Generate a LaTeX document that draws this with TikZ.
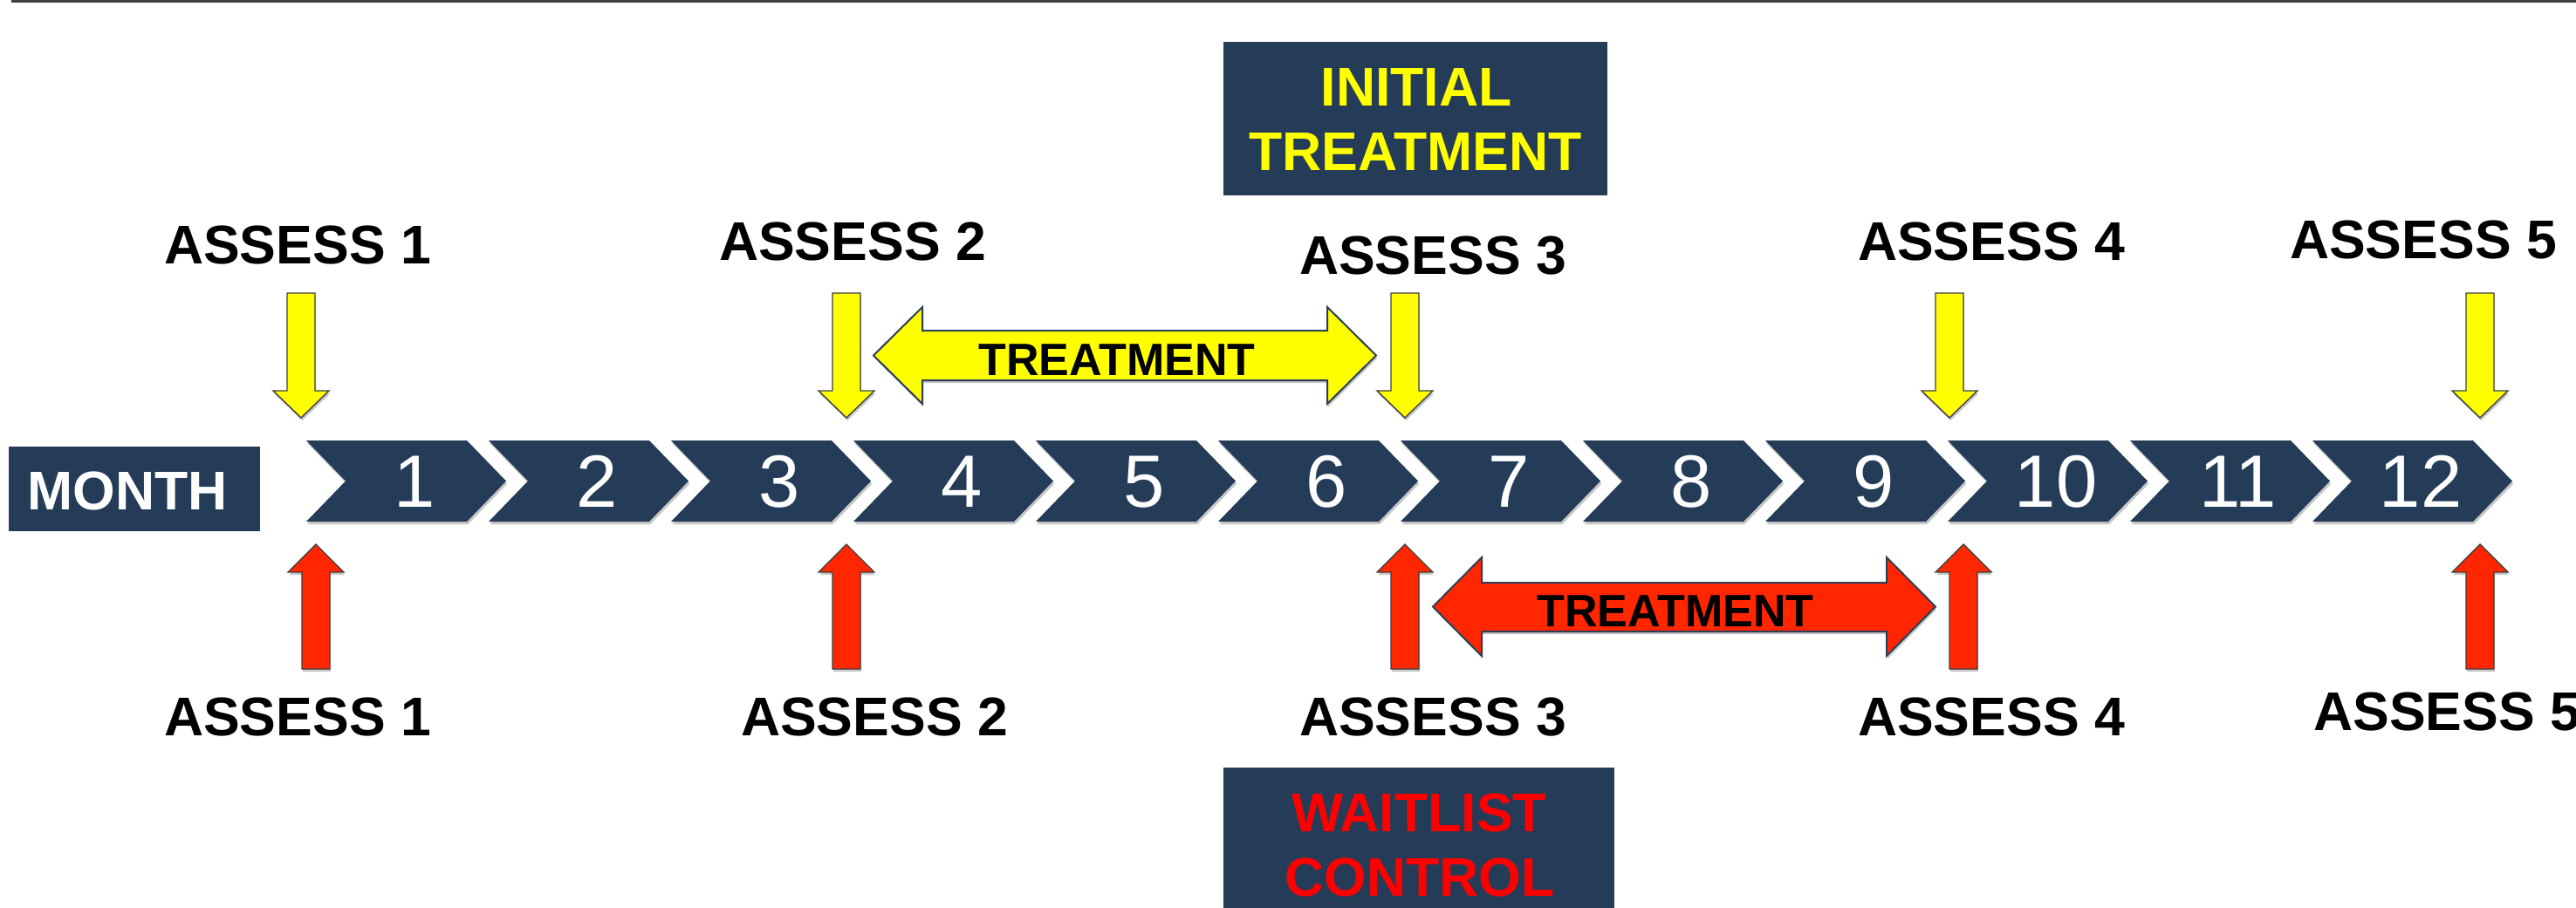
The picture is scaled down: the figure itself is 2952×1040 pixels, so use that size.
\documentclass[tikz,border=0pt]{standalone}
\usepackage{fontspec}
\setmainfont{Liberation Sans}
\usetikzlibrary{shadows}
\definecolor{navy}{HTML}{243C57}
\definecolor{ayellow}{HTML}{FFFF00}
\definecolor{ared}{HTML}{FF2600}
\definecolor{tred}{HTML}{FF0000}
\definecolor{edge}{HTML}{2B3F58}
\begin{document}
\begin{tikzpicture}[x=0.5pt,y=-0.5pt,
  softshadow/.style={drop shadow={shadow xshift=0.6pt,shadow yshift=-1.6pt,fill=black,opacity=0.22}},
  chev/.style={fill=navy,softshadow},
  digit/.style={text=white,inner sep=0pt,font=\fontsize{42.5pt}{42.5pt}\selectfont,text height=30.4pt,text depth=0pt},
  lbl/.style={text=black,inner sep=0pt,font=\bfseries\fontsize{31.25pt}{31.25pt}\selectfont,text height=22.4pt,text depth=0pt},
  boxline/.style={inner sep=0pt,font=\bfseries\fontsize{31.25pt}{31.25pt}\selectfont,text height=22.4pt,text depth=0pt},
  trtext/.style={text=black,inner sep=0pt,font=\bfseries\fontsize{26pt}{26pt}\selectfont,text height=18.6pt,text depth=0pt},
  navybox/.style={fill=navy,inner sep=0pt},
  yarrow/.style={fill=ayellow,draw=black!75,line width=0.7pt,line join=miter,softshadow},
  rarrow/.style={fill=ared,draw=black!75,line width=0.7pt,line join=miter,softshadow},
  ytreat/.style={fill=ayellow,draw=edge,line width=1pt,line join=miter,softshadow},
  rtreat/.style={fill=ared,draw=edge,line width=1pt,line join=miter,softshadow},
  topline/.style={draw=black!75,line width=1.5pt}
]
\useasboundingbox (0,0) rectangle (2952,1040);
\clip (0,0) rectangle (2952,1040);

% top rule
\coordinate (tl) at (13,1.5);
\coordinate (tr) at (2952,1.5);
\draw[topline] (tl) -- (tr);

% month label
\node[navybox,minimum width=144pt,minimum height=48.5pt] (monthbox) at (154,560.5) {};
\node[boxline,text=white] (month) at (146,562) {MONTH};

% chevrons
\foreach \i in {1,...,12}{
  \pgfmathsetmacro\L{351+209*(\i-1)}
  \fill[chev] (\L,505) -- (\L+184,505) -- (\L+229,551.5) -- (\L+184,598) -- (\L,598) -- (\L+45,551.5) -- cycle;
  \node[digit] (m\i) at (\L+124,551.5) {\i};
}

% initial treatment box
\node[navybox,minimum width=220pt,minimum height=88pt] (initbox) at (1622,136) {};
\node[boxline,text=ayellow] (init1) at (1623,99) {INITIAL};
\node[boxline,text=ayellow] (init2) at (1622,173) {TREATMENT};

% waitlist control box
\node[navybox,minimum width=224pt,minimum height=88pt] (waitbox) at (1626,968) {};
\node[boxline,text=tred] (wait1) at (1626,931) {WAITLIST};
\node[boxline,text=tred] (wait2) at (1627,1005) {CONTROL};

% yellow assessment arrows
\foreach \c in {345,970,1610,2234,2842}{
  \filldraw[yarrow] (\c-16,336) -- (\c+16,336) -- (\c+16,448) -- (\c+32,448) -- (\c,479) -- (\c-32,448) -- (\c-16,448) -- cycle;
}
% red assessment arrows
\foreach \c in {362,970,1610,2250,2842}{
  \filldraw[rarrow] (\c-16,767) -- (\c+16,767) -- (\c+16,656) -- (\c+32,656) -- (\c,624) -- (\c-32,656) -- (\c-16,656) -- cycle;
}

% treatment double arrows
\filldraw[ytreat] (1001,407.5) -- (1057,352) -- (1057,379) -- (1521,379) -- (1521,352) -- (1577,407.5) -- (1521,463) -- (1521,436) -- (1057,436) -- (1057,463) -- cycle;
\node[trtext] (ytr) at (1280,412) {TREATMENT};
\filldraw[rtreat] (1642,695.5) -- (1698,639) -- (1698,668) -- (2162,668) -- (2162,639) -- (2218,695.5) -- (2162,752) -- (2162,724) -- (1698,724) -- (1698,752) -- cycle;
\node[trtext] (rtr) at (1920,700) {TREATMENT};

% top labels
\node[lbl] (ta1) at (341,280) {ASSESS 1};
\node[lbl] (ta2) at (977,276) {ASSESS 2};
\node[lbl] (ta3) at (1642,292) {ASSESS 3};
\node[lbl] (ta4) at (2282,276) {ASSESS 4};
\node[lbl] (ta5) at (2777,274) {ASSESS 5};
% bottom labels
\node[lbl] (ba1) at (341,821) {ASSESS 1};
\node[lbl] (ba2) at (1002,821) {ASSESS 2};
\node[lbl] (ba3) at (1642,821) {ASSESS 3};
\node[lbl] (ba4) at (2282,821) {ASSESS 4};
\node[lbl,anchor=west] (ba5) at (2651,815) {ASSESS 5};
\end{tikzpicture}
\end{document}
